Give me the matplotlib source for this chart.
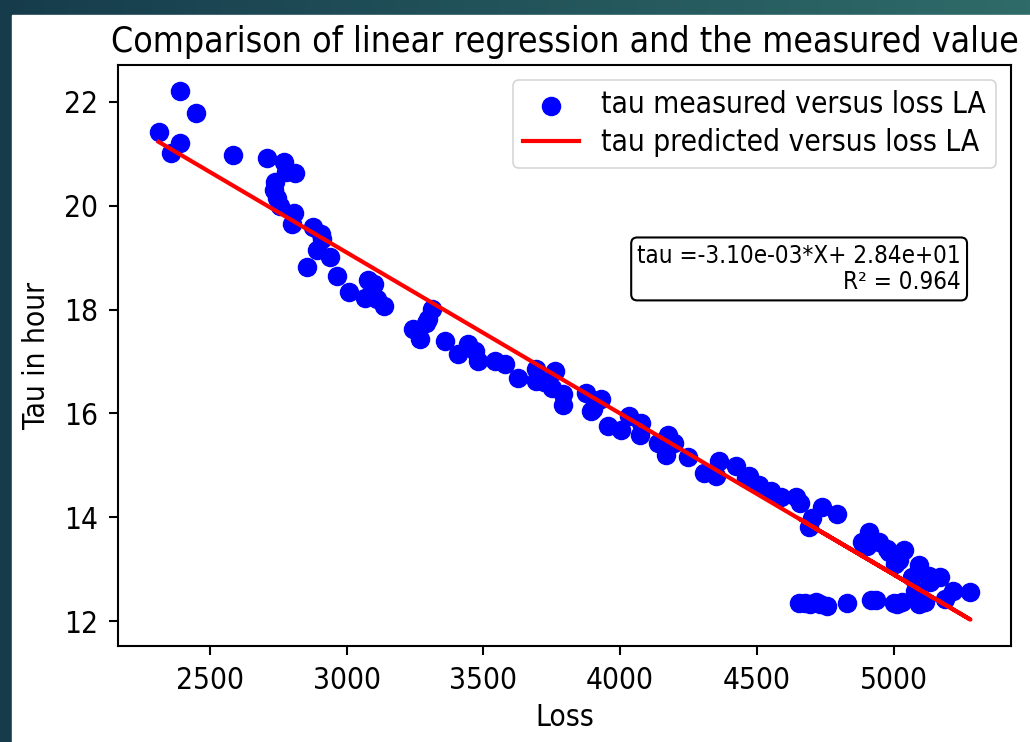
import numpy as np
import matplotlib
matplotlib.use("Agg")
import matplotlib.pyplot as plt
from matplotlib.patches import Rectangle
from matplotlib import font_manager

# measured tau vs loss
loss = [2313, 2358, 2391, 2392, 2449, 2585, 2710, 2735, 2740, 2745, 2755, 2771, 2780,
        2801, 2807, 2813, 2856, 2879, 2892, 2905, 2911, 2941, 2965, 3008, 3068, 3080,
        3099, 3110, 3135, 3244, 3269, 3290, 3299, 3311, 3360, 3408, 3445, 3469, 3481,
        3542, 3579, 3627, 3694, 3694, 3720, 3749, 3761, 3791, 3791, 3876, 3895, 3900,
        3931, 3955, 4004, 4034, 4077, 4071, 4137, 4168, 4174, 4198, 4247, 4307, 4350,
        4362, 4423, 4459, 4471, 4508, 4550, 4587, 4641, 4659, 4690, 4702, 4739, 4793,
        4884, 4903, 4909, 4945, 4976, 4982, 5006, 5018, 5036, 5066, 5078, 5091, 5115,
        5127, 5133, 5170, 5188, 5218, 5280,
        4655, 4675, 4695, 4715, 4730, 4755, 4830, 4915, 4935, 5000, 5012, 5030, 5091, 5100]
tau = [21.41, 21.01, 22.20, 21.20, 21.79, 20.97, 20.92, 20.30, 20.45, 20.15, 20.00, 20.85, 20.65,
       19.65, 19.85, 20.62, 18.82, 19.59, 19.14, 19.45, 19.36, 19.01, 18.65, 18.33, 18.23, 18.56,
       18.49, 18.20, 18.07, 17.62, 17.43, 17.75, 17.82, 18.01, 17.40, 17.14, 17.33, 17.20, 17.01,
       17.01, 16.95, 16.69, 16.85, 16.62, 16.60, 16.49, 16.82, 16.37, 16.17, 16.40, 16.04, 16.08,
       16.27, 15.75, 15.69, 15.95, 15.82, 15.59, 15.43, 15.21, 15.59, 15.43, 15.17, 14.85, 14.79,
       15.08, 14.98, 14.75, 14.79, 14.62, 14.50, 14.40, 14.40, 14.27, 13.82, 13.98, 14.20, 14.07,
       13.53, 13.45, 13.72, 13.53, 13.40, 13.33, 13.11, 13.17, 13.37, 12.85, 12.59, 13.08, 12.37,
       12.88, 12.75, 12.85, 12.43, 12.59, 12.56,
       12.35, 12.36, 12.34, 12.37, 12.33, 12.30, 12.36, 12.40, 12.40, 12.36, 12.34, 12.38, 12.34, 12.42]

slope = -3.10e-03
intercept = 2.84e+01
r2 = 0.964

loss = np.array(loss)
tau = np.array(tau)
tau_pred = slope * loss + intercept

# the text in the screenshot is squeezed sideways; use the condensed cut if it is there
cond = any(f.name == "DejaVu Sans" and f.stretch == "condensed"
           for f in font_manager.fontManager.ttflist)
if cond:
    plt.rcParams["font.stretch"] = "condensed"
    k = 1.16
else:
    k = 1.0

fig = plt.figure(figsize=(10.30, 7.42), dpi=100)

# dark slide border behind the white plot area
bg = fig.add_axes([0, 0, 1, 1], zorder=-10)
grad = np.linspace(0, 1, 256).reshape(1, -1)
cmap = matplotlib.colors.LinearSegmentedColormap.from_list("slide", ["#163c4c", "#2f6b69"])
bg.imshow(grad, aspect="auto", cmap=cmap, extent=[0, 1, 0, 1])
bg.add_patch(Rectangle((12 / 1030, 0), 1, (742 - 15) / 742, color="white"))
bg.set_xlim(0, 1)
bg.set_ylim(0, 1)
bg.axis("off")

ax = fig.add_axes([118 / 1030, 1 - 646 / 742, (1011 - 118) / 1030, (646 - 65) / 742])
ax.scatter(loss, tau, s=170, color="blue", label="tau measured versus loss LA", zorder=2)
ax.plot(loss, tau_pred, color="red", lw=3, label="tau predicted versus loss LA", zorder=3)

ax.set_title("Comparison of linear regression and the measured value", fontsize=22.0 * k, pad=9)
ax.set_xlabel("Loss", fontsize=18.5 * k, labelpad=6)
ax.set_ylabel("Tau in hour", fontsize=18.5 * k, labelpad=9)
ax.set_xticks([2500, 3000, 3500, 4000, 4500, 5000])
ax.set_yticks([12, 14, 16, 18, 20, 22])
ax.tick_params(labelsize=18.5 * k, length=6.5, width=1.5, pad=8)
for sp in ax.spines.values():
    sp.set_linewidth(1.5)

leg = ax.legend(loc="upper right", fontsize=18.5 * k, handlelength=1.85, borderpad=0.35,
                labelspacing=0.3, handletextpad=0.75, borderaxespad=0.5)
leg.get_frame().set_linewidth(1.2)

txt = "tau =%.2e*X+ %.2e\nR² = %.3f" % (slope, intercept, r2)
ax.text(0.944, 0.649, txt, transform=ax.transAxes, ha="right", va="center",
        multialignment="right", fontsize=15.0 * k, linespacing=1.15,
        bbox=dict(boxstyle="round,pad=0.25", fc="white", ec="black", lw=1.5))

fig.savefig("out.png", dpi=100)
